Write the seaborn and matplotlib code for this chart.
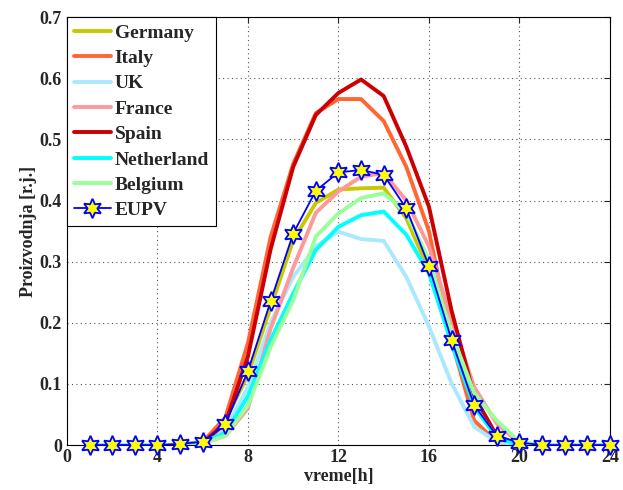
import matplotlib
matplotlib.use("Agg")
import matplotlib.pyplot as plt
import seaborn as sns
import numpy as np
import pandas as pd

hours = list(range(1, 25))
germany    = [0, 0, 0, 0, 0, 0.006, 0.040, 0.115, 0.225, 0.335, 0.396, 0.418, 0.420, 0.421, 0.371, 0.286, 0.170, 0.065, 0.012, 0.002, 0, 0, 0, 0]
italy      = [0, 0, 0, 0, 0, 0.005, 0.045, 0.167, 0.340, 0.460, 0.543, 0.566, 0.566, 0.530, 0.455, 0.350, 0.170, 0.040, 0.005, 0, 0, 0, 0, 0]
uk         = [0, 0, 0, 0, 0, 0.005, 0.025, 0.095, 0.200, 0.275, 0.325, 0.349, 0.337, 0.334, 0.275, 0.194, 0.101, 0.030, 0.005, 0, 0, 0, 0, 0]
france     = [0, 0, 0, 0, 0, 0.003, 0.015, 0.060, 0.190, 0.290, 0.380, 0.415, 0.439, 0.445, 0.400, 0.325, 0.205, 0.095, 0.035, 0.003, 0, 0, 0, 0]
spain      = [0, 0, 0, 0, 0, 0.004, 0.035, 0.145, 0.320, 0.455, 0.540, 0.576, 0.598, 0.571, 0.488, 0.390, 0.220, 0.080, 0.015, 0, 0, 0, 0, 0]
netherland = [0, 0, 0, 0, 0, 0.004, 0.020, 0.080, 0.172, 0.248, 0.319, 0.357, 0.376, 0.382, 0.344, 0.281, 0.166, 0.063, 0.012, 0, 0, 0, 0, 0]
belgium    = [0, 0, 0, 0, 0, 0.003, 0.015, 0.065, 0.160, 0.237, 0.341, 0.379, 0.404, 0.412, 0.380, 0.303, 0.183, 0.085, 0.040, 0.005, 0, 0, 0, 0]
eupv       = [0, 0, 0, 0, 0.002, 0.005, 0.034, 0.121, 0.235, 0.346, 0.416, 0.446, 0.450, 0.442, 0.387, 0.293, 0.172, 0.065, 0.015, 0.004, 0, 0, 0, 0]

series_names = ["Germany", "Italy", "UK", "France", "Spain", "Netherland", "Belgium"]
series_vals = [germany, italy, uk, france, spain, netherland, belgium]
colors = ["#c8c800", "#ff6633", "#aae8ff", "#ff9999", "#cc0000", "#00ffff", "#99ff99"]

sns.set_style("white")
plt.rcParams["font.family"] = ["Liberation Serif", "DejaVu Serif"]
plt.rcParams["font.weight"] = "bold"

fig = plt.figure(figsize=(6.23, 4.9), dpi=100)
ax = fig.add_axes([0.1075, 0.0918, 0.8715, 0.8732])

for name, vals, c in zip(series_names, series_vals, colors):
    sns.lineplot(x=hours, y=vals, ax=ax, color=c, linewidth=2.8, label=name)

star = (6, 1, 0)
sns.lineplot(x=hours, y=eupv, ax=ax, color="#0000ff", linewidth=1.3, marker=star,
             markersize=14, markerfacecolor="#ffff00", markeredgecolor="#0000ff",
             markeredgewidth=1.3, label="EUPV", clip_on=False, zorder=5)

ax.set_xlim(0, 24)
ax.set_ylim(0, 0.7)
ax.set_xticks([0, 4, 8, 12, 16, 20, 24])
ax.set_yticks([0, 0.1, 0.2, 0.3, 0.4, 0.5, 0.6, 0.7])
ax.set_yticklabels(["0", "0.1", "0.2", "0.3", "0.4", "0.5", "0.6", "0.7"])
ax.grid(True, linestyle=(0, (1, 3)), color="#555555", linewidth=0.8)
ax.tick_params(direction="in", length=4, labelsize=13, width=0.8, top=True, right=True)
ax.tick_params(axis="x", pad=3)
for lab in ax.get_xticklabels() + ax.get_yticklabels():
    lab.set_fontweight("bold")
for s in ax.spines.values():
    s.set_visible(True)
    s.set_color("black")
    s.set_linewidth(0.8)

ax.set_xlabel("vreme[h]", fontsize=13, fontweight="bold", labelpad=1)
ax.set_ylabel("Proizvodnja [r.j.]", fontsize=13, fontweight="bold", labelpad=2)

leg = ax.legend(loc="upper left", fontsize=14, frameon=True, fancybox=False,
                edgecolor="black", borderaxespad=0.0, handlelength=1.9,
                handletextpad=0.2, labelspacing=0.4, borderpad=0.35,
                framealpha=1)
leg.get_frame().set_linewidth(0.8)
leg.set_zorder(10)
for t in leg.get_texts():
    t.set_fontweight("bold")

fig.savefig("out.png", dpi=100)
